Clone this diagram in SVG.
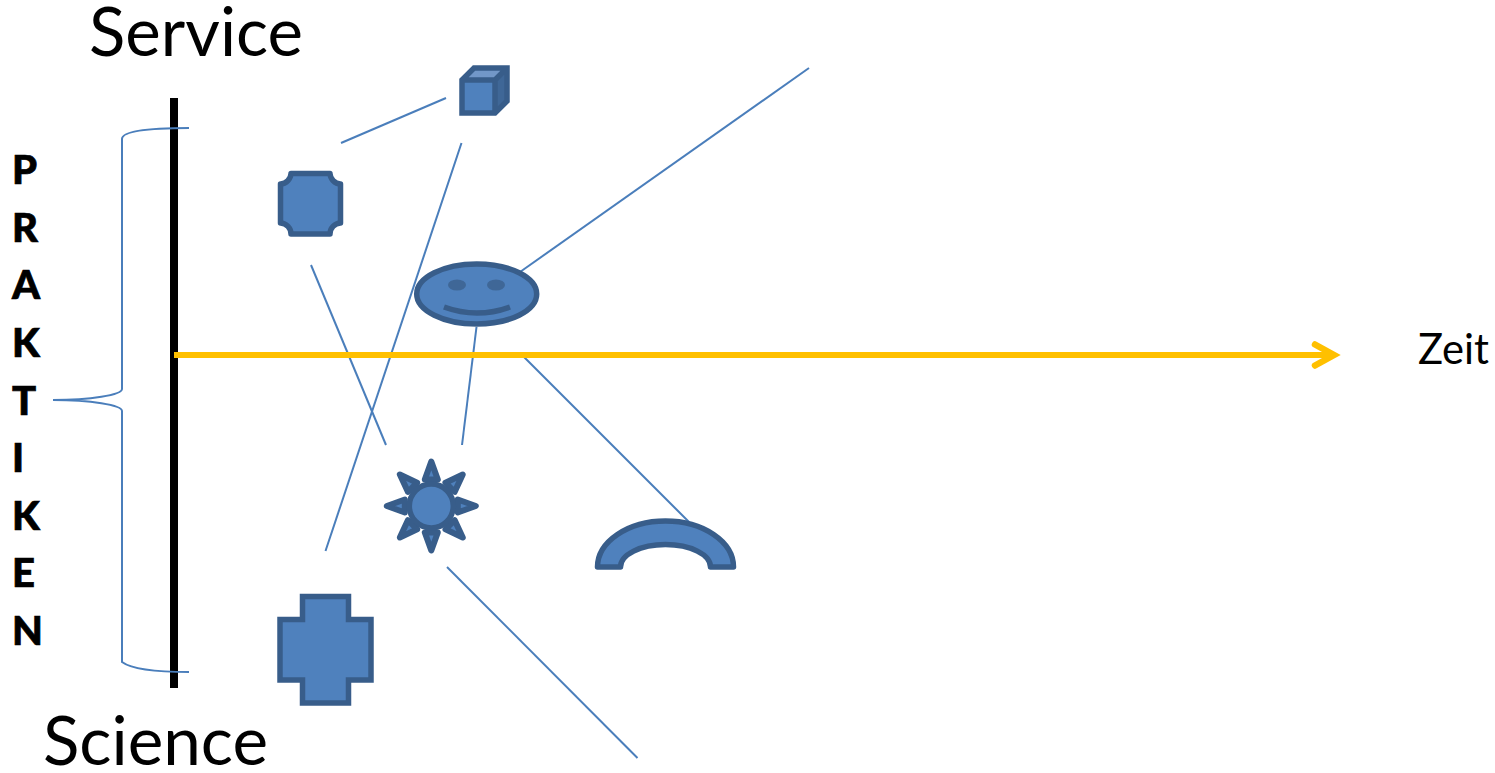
<svg xmlns="http://www.w3.org/2000/svg" width="1495" height="773" viewBox="0 0 1495 773">
<style>
text{font-family:Lato,"Open Sans","Liberation Sans",sans-serif;fill:#000}
.big{font-size:67px}
.p{font-size:40px;font-weight:900;stroke:#000;stroke-width:.7}
.shape{fill:#4f81bd;stroke:#385d8a;stroke-width:5.5}
.thin{fill:none;stroke:#4a7ebb;stroke-width:2}
</style>
<defs>
<g id="ray"><path d="M431.300 461.500L437.800 479.500H424.800Z" fill="#4f81bd" stroke="#385d8a" stroke-width="6" stroke-linejoin="round"/></g>
</defs>
<rect width="1495" height="773" fill="#fff"/>
<g id="connectors">
<path class="thin" d="M341 143L446 98"/>
<path class="thin" d="M461.500 143L325.500 551"/>
<path class="thin" d="M311 265L386 445"/>
<path class="thin" d="M809 68L520 272"/>
<path class="thin" d="M476.500 327L462 445"/>
<path class="thin" d="M522 355L689 522"/>
<path class="thin" d="M447 567L637.500 758"/>
</g>
<g id="axis-vertical"><path d="M174 98V688" stroke="#000" stroke-width="8" fill="none"/></g>
<g id="brace"><path class="thin" d="M189 128C150 128 122 131 122 139V389C122 395 90 400 53 400C90 400 122 405 122 411V662C130 668 150 672 189 672"/></g>
<g id="axis-time"><path d="M174 355H1334" stroke="#ffc000" stroke-width="6" fill="none"/><path d="M1315 344.500L1334 355L1315 365.500" stroke="#ffc000" stroke-width="6.500" fill="none" stroke-linecap="round" stroke-linejoin="miter"/></g>
<g id="node-cube">
<path d="M462 80L474 68H507V101L495 113H462Z" fill="#4f81bd"/>
<path d="M462 80L474 68H507L495 80Z" fill="#7297c8"/>
<path d="M495 80L507 68V101L495 113Z" fill="#3f6797"/>
<path d="M462 80L474 68H507V101L495 113H462ZM462 80H495V113M495 80L507 68" fill="none" stroke="#385d8a" stroke-width="5.500"/>
</g>
<g id="node-plaque"><path class="shape" stroke-linejoin="round" d="M291 173.500H330A11 11 0 0 0 340.500 184V223A11 11 0 0 0 330 234H291A11 11 0 0 0 280.500 223V184A11 11 0 0 0 291 173.500Z"/></g>
<g id="node-smiley">
<ellipse class="shape" cx="476.700" cy="294" rx="60" ry="30"/>
<ellipse cx="457" cy="285" rx="9" ry="5.500" fill="#3f6797"/>
<ellipse cx="496" cy="285" rx="9" ry="5.500" fill="#3f6797"/>
<path d="M444 307Q477 319 510 307" fill="none" stroke="#385d8a" stroke-width="5.500"/>
</g>
<g id="node-sun">
<use href="#ray"/>
<use href="#ray" transform="rotate(45 431.300 506)"/>
<use href="#ray" transform="rotate(90 431.300 506)"/>
<use href="#ray" transform="rotate(135 431.300 506)"/>
<use href="#ray" transform="rotate(180 431.300 506)"/>
<use href="#ray" transform="rotate(225 431.300 506)"/>
<use href="#ray" transform="rotate(270 431.300 506)"/>
<use href="#ray" transform="rotate(315 431.300 506)"/>
<circle class="shape" cx="431.300" cy="506" r="22"/>
</g>
<g id="node-arc"><path class="shape" stroke-linejoin="round" d="M597.500 567A68 46 0 0 1 733.500 567H710.500A45 22.500 0 0 0 620.500 567Z"/></g>
<g id="node-cross"><path class="shape" d="M302.500 596.500H348.500V619.500H371V680H348.500V703H302.500V680H280V619.500H302.500Z"/></g>
<g id="labels">
<text class="big" x="89" y="56" textLength="214" lengthAdjust="spacingAndGlyphs">Service</text>
<text class="big" x="43" y="765" textLength="225" lengthAdjust="spacingAndGlyphs">Science</text>
<text x="1418" y="364" font-size="42" textLength="71" lengthAdjust="spacingAndGlyphs">Zeit</text>
<text class="p" x="12" y="184">P</text>
<text class="p" x="12" y="241.700">R</text>
<text class="p" x="12" y="299">A</text>
<text class="p" x="12" y="356.700">K</text>
<text class="p" x="12" y="415">T</text>
<text class="p" x="12" y="472">I</text>
<text class="p" x="12" y="530">K</text>
<text class="p" x="12" y="587">E</text>
<text class="p" x="12" y="645">N</text>
</g>
</svg>
